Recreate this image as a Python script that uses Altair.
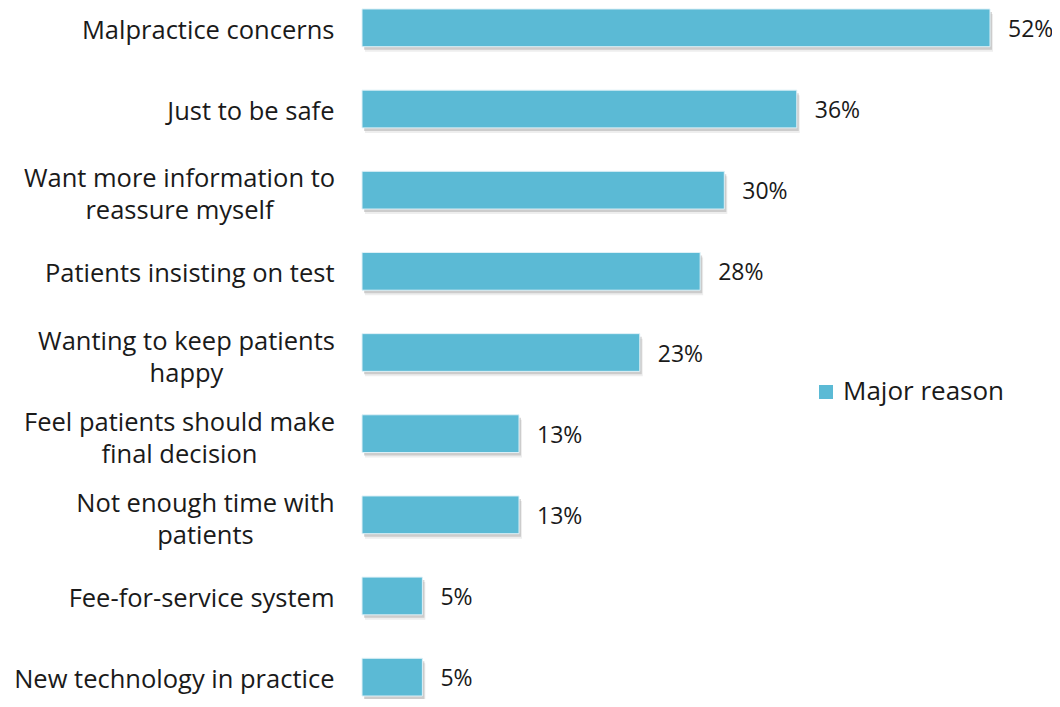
import altair as alt
import pandas as pd

categories = [
    "Malpractice concerns",
    "Just to be safe",
    "Want more information to\nreassure myself",
    "Patients insisting on test",
    "Wanting to keep patients\nhappy",
    "Feel patients should make\nfinal decision",
    "Not enough time with\npatients",
    "Fee-for-service system",
    "New technology in practice",
]
values = [52, 36, 30, 28, 23, 13, 13, 5, 5]
series_name = "Major reason"

df = pd.DataFrame({"reason": categories, "pct": values, "series": series_name})
df["label"] = df["pct"].astype(str) + "%"

FONT = "Open Sans"
BAR = "#5BBAD5"

multi = "indexof(datum.value, '\\n') >= 0"

y_enc = alt.Y(
    "reason:N",
    sort=categories,
    scale=alt.Scale(paddingInner=0.535, paddingOuter=0.012),
    axis=alt.Axis(
        title=None, domain=False, ticks=False,
        labelFontSize=25.5, labelFont=FONT, labelColor="#1a1a1a",
        labelLineHeight=32, labelLimit=0,
        labelAlign={"condition": {"test": multi, "value": "center"}, "value": "right"},
        labelPadding={
            "condition": [
                {"test": "indexof(datum.value, 'Want more') === 0", "value": 183},
                {"test": "indexof(datum.value, 'Wanting to') === 0", "value": 176},
                {"test": "indexof(datum.value, 'Feel patients') === 0", "value": 183},
                {"test": "indexof(datum.value, 'Not enough') === 0", "value": 157},
            ],
            "value": 28,
        },
        labelOffset={"condition": {"test": multi, "value": -11}, "value": 3},
        labelExpr="split(datum.label, '\\n')",
    ),
)
x_enc = alt.X("pct:Q", scale=alt.Scale(domain=[0, 52], nice=False), axis=None)

base = alt.Chart(df)

shadow = base.mark_bar(color="#8c8c8c", opacity=0.35, xOffset=2, yOffset=3).encode(x=x_enc, y=y_enc)
shadow2 = base.mark_bar(color="#8c8c8c", opacity=0.15, xOffset=3, yOffset=5).encode(x=x_enc, y=y_enc)

bars = base.mark_bar(stroke="#dff1f7", strokeWidth=1).encode(
    x=x_enc,
    y=y_enc,
    color=alt.Color(
        "series:N",
        scale=alt.Scale(range=[BAR]),
        legend=alt.Legend(
            title=None, orient="none", legendX=451, legendY=371, padding=0,
            symbolType="square", symbolSize=196, symbolStrokeWidth=0,
            labelFontSize=26, labelFont=FONT, labelColor="#1a1a1a", labelOffset=4,
            labelLimit=400,
        ),
    ),
)

text = base.mark_text(align="left", baseline="middle", dx=18, dy=2, fontSize=23, font=FONT, color="#1a1a1a").encode(
    x=x_enc, y=y_enc, text="label:N"
)

chart = alt.layer(shadow2, shadow, bars, text).properties(
    width=628, height=689,
    autosize="none",
    padding={"left": 354, "top": 0, "right": 62, "bottom": 2},
).configure_view(stroke=None)

chart.save("out.html", embed_options={"renderer": "svg", "actions": False})
